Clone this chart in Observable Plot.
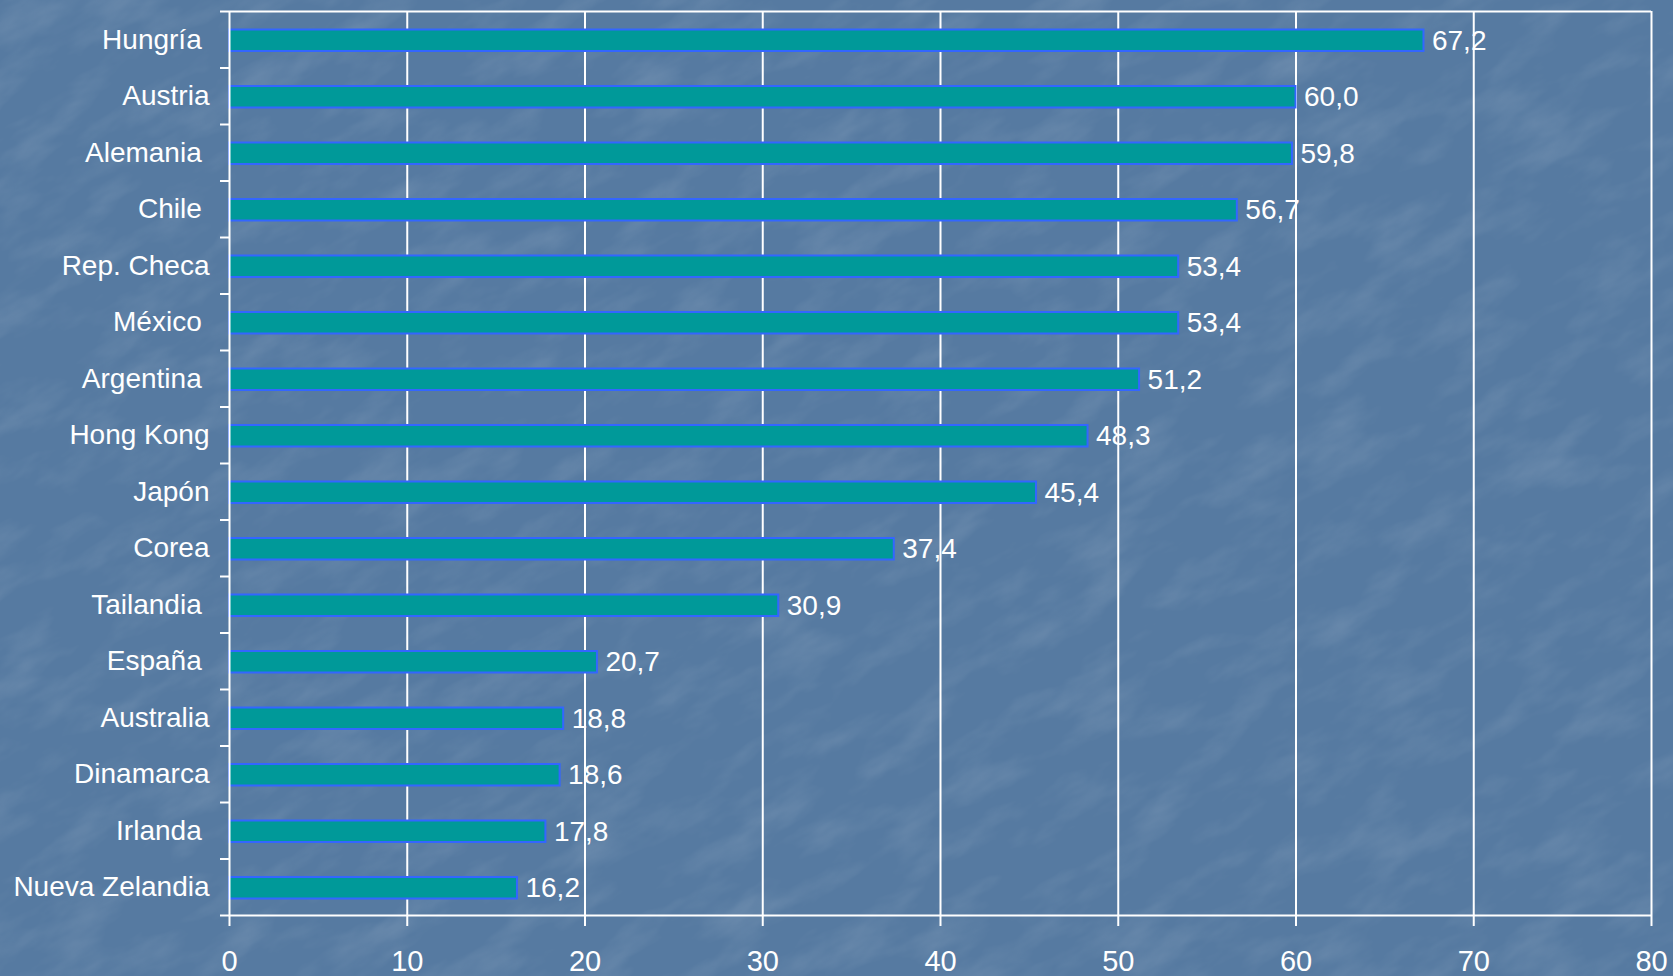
<!DOCTYPE html>
<html>
<head>
<meta charset="utf-8">
<script src="https://cdn.jsdelivr.net/npm/d3@7"></script>
<script src="https://cdn.jsdelivr.net/npm/@observablehq/plot@0.6"></script>
<style>
  html, body { margin: 0; padding: 0; }
  body {
    width: 1673px; height: 976px; overflow: hidden;
    background-color: #587ba2;
    position: relative;
  }
  #bg { position: absolute; left: 0; top: 0; }
  #chart { position: absolute; left: 0; top: 0; }
  #chart svg { background: transparent; }
</style>
</head>
<body>
<svg id="bg" width="1673" height="976">
  <defs>
    <filter id="marble" x="0" y="0" width="100%" height="100%">
      <feTurbulence type="fractalNoise" baseFrequency="0.012 0.03" numOctaves="4" seed="7" result="noise"/>
      <feColorMatrix in="noise" type="matrix"
        values="0 0 0 0 1
                0 0 0 0 1
                0 0 0 0 1
                1.1 0 0 0 -0.5" />
    </filter>
  </defs>
  <rect width="1673" height="976" fill="#567aa1"/>
  <g transform="rotate(-30 836 488)">
    <rect x="-600" y="-600" width="2900" height="2200" filter="url(#marble)" opacity="0.22"/>
  </g>
</svg>
<div id="chart"></div>
<script>
const countries = ["Hungría","Austria","Alemania","Chile","Rep. Checa","México","Argentina","Hong Kong","Japón","Corea","Tailandia","España","Australia","Dinamarca","Irlanda","Nueva Zelandia"];
const values = [67.2, 60.0, 59.8, 56.7, 53.4, 53.4, 51.2, 48.3, 45.4, 37.4, 30.9, 20.7, 18.8, 18.6, 17.8, 16.2];
// original category labels (some carry a trailing space)
const tickLabels = ["Hungría\u00a0","Austria","Alemania\u00a0","Chile\u00a0","Rep. Checa","México\u00a0","Argentina\u00a0","Hong Kong","Japón","Corea","Tailandia\u00a0","España\u00a0","Australia","Dinamarca","Irlanda\u00a0","Nueva Zelandia"];
const xTicks = [0, 10, 20, 30, 40, 50, 60, 70, 80];

const data = countries.map((c, i) => ({country: c, value: values[i]}));
const labelOf = new Map(countries.map((c, i) => [c, tickLabels[i]]));
const fmt = v => v.toFixed(1).replace(".", ",");

const W = 1673, H = 976;
const mTop = 11, mBottom = 61, mLeft = 229, mRight = 22;
const step = (H - mTop - mBottom) / countries.length;
const white = "#ffffff";

const chart = Plot.plot({
  width: W, height: H,
  marginTop: mTop, marginBottom: mBottom, marginLeft: mLeft, marginRight: mRight,
  style: {fontFamily: "'Liberation Sans', Arial, sans-serif", color: white, background: "transparent", overflow: "visible"},
  x: {domain: [0, 80], ticks: xTicks},
  y: {domain: countries, padding: 0, round: false},
  marks: [
    // vertical gridlines + right border
    Plot.ruleX(xTicks.slice(1), {stroke: white, strokeWidth: 2, strokeOpacity: 1}),
    // top border
    Plot.ruleY([countries[0]], {y: d => d, x1: 0, x2: 80, dy: -step / 2, stroke: white, strokeWidth: 2}),
    // bars
    Plot.barX(data, {
      y: "country", x: "value",
      fill: "#009999", stroke: "#3366ff", strokeWidth: 2,
      insetTop: 17.5, insetBottom: 17.5, dy: 1
    }),
    // value labels
    Plot.text(data, {
      y: "country", x: "value", text: d => fmt(d.value),
      textAnchor: "start", dx: 8, dy: 1, fill: white, fontSize: 28
    }),
    // left axis line
    Plot.ruleX([0], {stroke: white, strokeWidth: 2}),
    // bottom axis line
    Plot.ruleY([countries[countries.length - 1]], {y: d => d, x1: 0, x2: 80, dy: step / 2, stroke: white, strokeWidth: 2}),
    // category boundary ticks on the left
    Plot.ruleY(countries, {y: d => d, x1: 0, x2: 0, insetLeft: -9, dy: -step / 2, stroke: white, strokeWidth: 2}),
    Plot.ruleY([countries[countries.length - 1]], {y: d => d, x1: 0, x2: 0, insetLeft: -9, dy: step / 2, stroke: white, strokeWidth: 2}),
    // y axis labels
    Plot.axisY({tickSize: 0, tickPadding: 20, fontSize: 28, tickFormat: d => labelOf.get(d), fill: white, label: null}),
    // x axis
    Plot.axisX({ticks: xTicks, tickSize: 11, tickPadding: 24, fontSize: 29, stroke: white, strokeWidth: 2, strokeOpacity: 1, fill: white, label: null})
  ]
});
document.getElementById("chart").appendChild(chart);
</script>
</body>
</html>
